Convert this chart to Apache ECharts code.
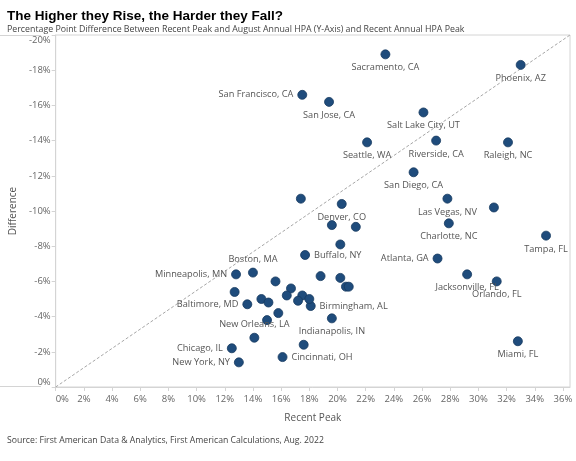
<!DOCTYPE html>
<html><head><meta charset="utf-8">
<script src="https://cdn.jsdelivr.net/npm/echarts@6/dist/echarts.min.js"></script>
<style>html,body{margin:0;padding:0;background:#fff}#c{width:576px;height:461px}</style>
</head><body><div id="c"></div>
<script>
// Data
const cities = ['Sacramento, CA','Phoenix, AZ','San Francisco, CA','San Jose, CA','Salt Lake City, UT','Seattle, WA','Riverside, CA','Raleigh, NC','San Diego, CA','Denver, CO','Las Vegas, NV','Charlotte, NC','Tampa, FL','Buffalo, NY','Atlanta, GA','Jacksonville, FL','Orlando, FL','Birmingham, AL','Indianapolis, IN','Cincinnati, OH','Miami, FL','Boston, MA','Minneapolis, MN','Baltimore, MD','New Orleans, LA','Chicago, IL','New York, NY',
  '','','','','','','','','','','','','','','','','','','','',''];
const recentPeak = [23.4,33.0,17.5,19.4,26.1,22.1,27.0,32.1,25.4,20.3,27.8,27.9,34.8,17.7,27.1,29.2,31.3,18.1,19.6,16.1,32.8,14.0,12.8,13.6,14.1,12.5,13.0,
  17.4,31.1,19.6,21.3,20.2,18.8,20.2,20.6,20.8,16.7,17.5,17.2,18.0,17.6,12.7,14.6,15.1,15.6,16.4,15.8,15.0];
const difference = [-18.9,-18.3,-16.6,-16.2,-15.6,-13.9,-14.0,-13.9,-12.2,-10.4,-10.7,-9.3,-8.6,-7.5,-7.3,-6.4,-6.0,-4.6,-3.9,-1.7,-2.6,-6.5,-6.4,-4.7,-2.8,-2.2,-1.4,
  -10.7,-10.2,-9.2,-9.1,-8.1,-6.3,-6.2,-5.7,-5.7,-5.6,-5.2,-4.9,-5.0,-2.4,-5.4,-5.0,-4.8,-6.0,-5.2,-4.2,-3.8];
const xTicks = [0,2,4,6,8,10,12,14,16,18,20,22,24,26,28,30,32,34,36];

// Label placement (style, not data)
const labelPlace = {
  'San Francisco, CA':{position:'left'},
  'Buffalo, NY':{position:'right'},
  'Atlanta, GA':{position:'left'},
  'Birmingham, AL':{position:'right'},
  'Cincinnati, OH':{position:'right'},
  'Minneapolis, MN':{position:'left'},
  'Baltimore, MD':{position:'left'},
  'Chicago, IL':{position:'left'},
  'New York, NY':{position:'left'},
  'Boston, MA':{position:'top', offset:[-22,-1]},
  'New Orleans, LA':{position:'top', offset:[-32,-1]}
};

const FONT = 'Open Sans';
const pts = recentPeak.map((x,i)=>{
  const name = cities[i];
  const lp = labelPlace[name] || {position:'bottom'};
  return {
    name: name,
    value: [x, difference[i]],
    label: name ? Object.assign({show:true, formatter:'{b}', distance:4}, lp) : {show:false}
  };
});

const chart = echarts.init(document.getElementById('c'), null, {renderer:'canvas'});
chart.setOption({
  animation:false,
  textStyle:{fontFamily:FONT},
  title:[
    {text:'The Higher they Rise, the Harder they Fall?', left:2, top:4,
     textStyle:{fontFamily:'Liberation Sans, Arial', fontWeight:'bold', fontSize:13.5, color:'#000'}},
    {text:'Percentage Point Difference Between Recent Peak and August Annual HPA (Y-Axis) and Recent Annual HPA Peak', left:2, top:20,
     textStyle:{fontFamily:FONT, fontWeight:'normal', fontSize:8.8, color:'#444'}},
    {text:'Source: First American Data & Analytics, First American Calculations, Aug. 2022', left:2, top:431,
     textStyle:{fontFamily:FONT, fontWeight:'normal', fontSize:8.7, color:'#444'}}
  ],
  grid:{left:41, right:6, top:35, bottom:74, show:true, borderColor:'#d4d4d4', borderWidth:1, backgroundColor:'transparent'},
  xAxis:{type:'value', min:0, max:36.5, interval:2,
    name:'Recent Peak', nameLocation:'middle', nameGap:26,
    nameTextStyle:{fontFamily:FONT, fontSize:10, color:'#555'},
    axisLine:{show:true, lineStyle:{color:'#d4d4d4'}},
    axisTick:{show:true, length:4, lineStyle:{color:'#d4d4d4'}, customValues:xTicks},
    splitLine:{show:false},
    axisLabel:{customValues:xTicks, formatter:v=>v+'%', fontFamily:FONT, fontSize:9.5, color:'#666', margin:7, alignMinLabel:'left'}
  },
  yAxis:{type:'value', min:-20, max:0, interval:2, inverse:true,
    name:'Difference', nameLocation:'middle', nameGap:34, nameRotate:90,
    nameTextStyle:{fontFamily:FONT, fontSize:10, color:'#555'},
    axisLine:{show:true, lineStyle:{color:'#d4d4d4'}},
    axisTick:{show:true, length:4, lineStyle:{color:'#d4d4d4'}},
    splitLine:{show:false},
    axisLabel:{formatter:v=>v+'%', fontFamily:FONT, fontSize:9.5, color:'#666', margin:5,
      verticalAlignMinLabel:'top', verticalAlignMaxLabel:'bottom'}
  },
  graphic:[
    {type:'line', shape:{x1:0,y1:35.5,x2:41,y2:35.5}, style:{stroke:'#d4d4d4', lineWidth:1}, silent:true},
    {type:'line', shape:{x1:0,y1:386.5,x2:41,y2:386.5}, style:{stroke:'#d4d4d4', lineWidth:1}, silent:true}
  ],
  series:[
    {type:'line', data:[[0,0],[36.5,-20]], symbol:'none', silent:true, z:1,
     lineStyle:{color:'#a6a6a6', width:1, type:[3,2]}},
    {type:'scatter', data:pts, symbolSize:9, z:3,
     itemStyle:{color:'#1f4c7c', borderColor:'#163a60', borderWidth:0.8, opacity:1},
     label:{fontFamily:FONT, fontSize:9.2, color:'#555'},
     labelLayout:{hideOverlap:false}}
  ]
});
</script></body></html>
